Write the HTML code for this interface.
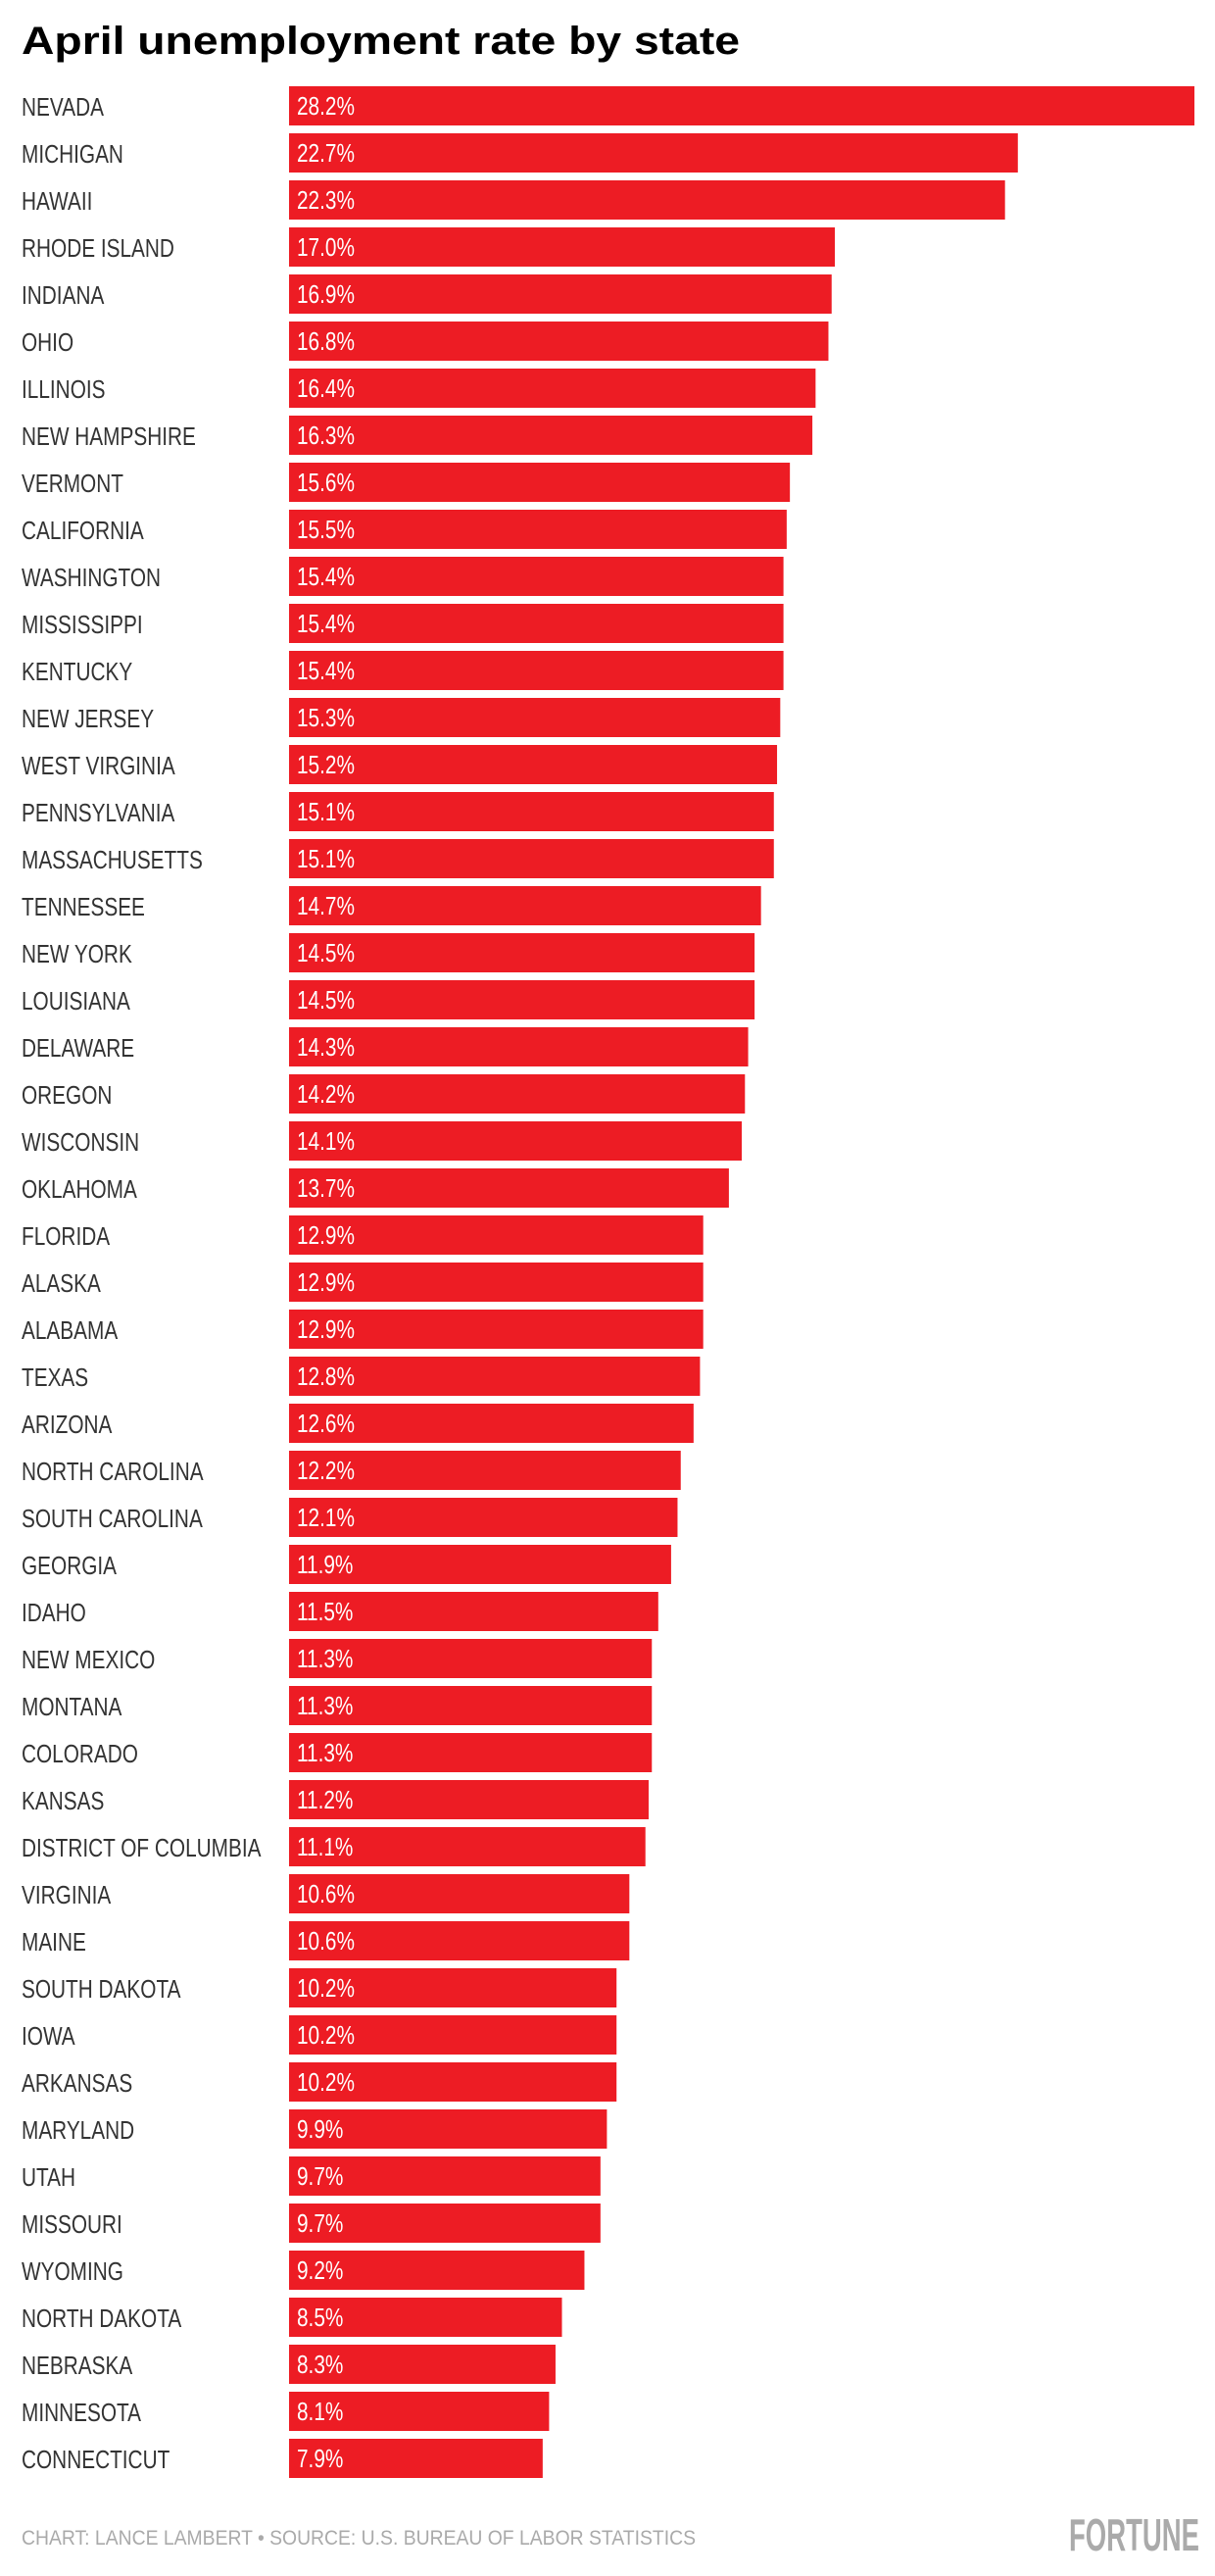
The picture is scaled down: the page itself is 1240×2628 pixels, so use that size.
<!DOCTYPE html>
<html><head><meta charset="utf-8">
<style>
html,body{margin:0;padding:0;background:#fff;}
svg{display:block;}
</style></head>
<body>
<svg id="chart" width="1240" height="2628" viewBox="0 0 1240 2628" xmlns="http://www.w3.org/2000/svg">
<rect width="1240" height="2628" fill="#fff"/>
<text x="22" y="55" font-family="Liberation Sans, sans-serif" font-weight="bold" font-size="40" fill="#000" textLength="733" lengthAdjust="spacingAndGlyphs">April unemployment rate by state</text>
<g id="bars"></g>
<text x="22" y="2596" font-family="Liberation Sans, sans-serif" font-size="21" fill="#aaa" textLength="688" lengthAdjust="spacingAndGlyphs">CHART: LANCE LAMBERT • SOURCE: U.S. BUREAU OF LABOR STATISTICS</text>
<text x="1091" y="2602" font-family="Liberation Sans, sans-serif" font-weight="bold" font-size="46" fill="#aaa" textLength="133" lengthAdjust="spacingAndGlyphs">FORTUNE</text>
</svg>
<script>
const states = ["NEVADA","MICHIGAN","HAWAII","RHODE ISLAND","INDIANA","OHIO","ILLINOIS","NEW HAMPSHIRE","VERMONT","CALIFORNIA","WASHINGTON","MISSISSIPPI","KENTUCKY","NEW JERSEY","WEST VIRGINIA","PENNSYLVANIA","MASSACHUSETTS","TENNESSEE","NEW YORK","LOUISIANA","DELAWARE","OREGON","WISCONSIN","OKLAHOMA","FLORIDA","ALASKA","ALABAMA","TEXAS","ARIZONA","NORTH CAROLINA","SOUTH CAROLINA","GEORGIA","IDAHO","NEW MEXICO","MONTANA","COLORADO","KANSAS","DISTRICT OF COLUMBIA","VIRGINIA","MAINE","SOUTH DAKOTA","IOWA","ARKANSAS","MARYLAND","UTAH","MISSOURI","WYOMING","NORTH DAKOTA","NEBRASKA","MINNESOTA","CONNECTICUT"];
const rates = [28.2,22.7,22.3,17.0,16.9,16.8,16.4,16.3,15.6,15.5,15.4,15.4,15.4,15.3,15.2,15.1,15.1,14.7,14.5,14.5,14.3,14.2,14.1,13.7,12.9,12.9,12.9,12.8,12.6,12.2,12.1,11.9,11.5,11.3,11.3,11.3,11.2,11.1,10.6,10.6,10.2,10.2,10.2,9.9,9.7,9.7,9.2,8.5,8.3,8.1,7.9];

const NS = "http://www.w3.org/2000/svg";
const x0 = 295, pxPerUnit = 924 / 28.2;
const xScale = v => v * pxPerUnit;
const yScale = i => 88 + i * 48;
const barH = 40, sx = 0.8;
const g = document.getElementById('bars');

states.forEach((name, i) => {
  const y = yScale(i);
  const lbl = document.createElementNS(NS, 'text');
  
  
  lbl.setAttribute('transform', `translate(22,${y + 30}) scale(${sx},1)`);
  lbl.setAttribute('font-family', 'Liberation Sans, sans-serif');
  lbl.setAttribute('font-size', '26');
  lbl.setAttribute('fill', '#333');
  lbl.textContent = name;
  g.appendChild(lbl);

  const r = document.createElementNS(NS, 'rect');
  
  
  r.setAttribute('x', x0);
  r.setAttribute('y', y);
  r.setAttribute('width', xScale(rates[i]));
  r.setAttribute('height', barH);
  r.setAttribute('fill', '#ED1C24');
  g.appendChild(r);

  const v = document.createElementNS(NS, 'text');
  
  
  v.setAttribute('transform', `translate(${x0 + 8},${y + 29}) scale(${sx},1)`);
  v.setAttribute('font-family', 'Liberation Sans, sans-serif');
  v.setAttribute('font-size', '26');
  v.setAttribute('fill', '#fff');
  v.textContent = rates[i].toFixed(1) + '%';
  g.appendChild(v);
});
</script>
</body></html>
